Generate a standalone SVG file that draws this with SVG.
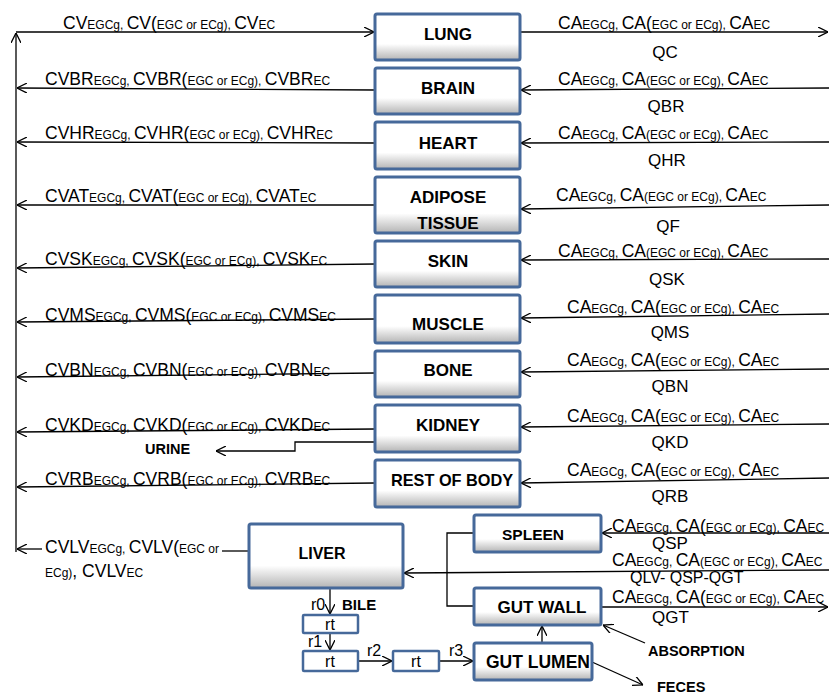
<svg xmlns="http://www.w3.org/2000/svg" width="829" height="694" viewBox="0 0 829 694">
<defs>
<linearGradient id="bg" x1="0" y1="0" x2="0" y2="1">
<stop offset="0" stop-color="#ffffff"/>
<stop offset="0.65" stop-color="#ffffff"/>
<stop offset="1" stop-color="#b4b4b4"/>
</linearGradient>
<marker id="ah" viewBox="0 0 10 10" refX="10" refY="5" markerWidth="10" markerHeight="10" markerUnits="userSpaceOnUse" orient="auto">
<path d="M0,0 L10,5 L0,10" fill="none" stroke="#000" stroke-width="1.3"/>
</marker>
</defs>
<style>
text{font-family:"Liberation Sans",Arial,sans-serif;fill:#000}
.lb{font-size:17.5px}
.s{font-size:12px}
.q{font-size:17px}
.b{font-weight:bold;font-size:17px;text-anchor:middle}
.bl{font-weight:bold;font-size:14.5px}
.r{font-size:16px}
.box{fill:url(#bg);stroke:#46699a;stroke-width:3}
.rt{fill:#fff;stroke:#46699a;stroke-width:2.5}
.c{fill:none;stroke:#000;stroke-width:1.3}
.a{marker-end:url(#ah)}
</style>

<g id="connectors">
<path class="c a" d="M16,552 V33"/>
<path class="c a" d="M16,32 H374"/>
<path class="c a" d="M375,90 L17,88"/>
<path class="c a" d="M375,143 L17,142"/>
<path class="c a" d="M375,205 L17,205"/>
<path class="c a" d="M375,264 L17,268"/>
<path class="c a" d="M375,319 L17,322"/>
<path class="c a" d="M375,373 L17,377"/>
<path class="c a" d="M375,429 L17,432"/>
<path class="c a" d="M375,442 H295 V451 H216"/>
<path class="c a" d="M375,483 L17,487"/>
<path class="c" d="M249,551 H222"/>
<path class="c a" d="M42,549 H17"/>
<path class="c a" d="M521,32 H828"/>
<path class="c a" d="M829,88 L521,90"/>
<path class="c a" d="M829,142 L521,143"/>
<path class="c a" d="M829,205 L521,209"/>
<path class="c a" d="M829,259 L521,260"/>
<path class="c a" d="M829,314 L521,318"/>
<path class="c a" d="M829,369 L521,372"/>
<path class="c a" d="M829,424 L521,427"/>
<path class="c a" d="M829,478 L521,483"/>
<path class="c a" d="M829,533 L602,533"/>
<path class="c a" d="M829,570 L404,573"/>
<path class="c a" d="M601,607 H828"/>
<path class="c a" d="M645,643 L603,625"/>
<path class="c a" d="M592,662 L643,685"/>
<path class="c a" d="M542,643 V626"/>
<path class="c" d="M474,533 H447 V606 H474"/>
<path class="c a" d="M330,588 V614"/>
<path class="c a" d="M330,633 V650"/>
<path class="c a" d="M358,661 H392"/>
<path class="c a" d="M439,661 H473"/>
</g>

<g id="lung"><rect class="box" x="375" y="14" width="145" height="46" rx="2"/><text class="b" x="448" y="40">LUNG</text></g>
<g id="brain"><rect class="box" x="375" y="68" width="145" height="46" rx="2"/><text class="b" x="448" y="94">BRAIN</text></g>
<g id="heart"><rect class="box" x="375" y="122" width="145" height="47" rx="2"/><text class="b" x="448" y="149">HEART</text></g>
<g id="adipose"><rect class="box" x="375" y="177" width="145" height="56" rx="2"/><text class="b" x="448" y="203">ADIPOSE</text><text class="b" x="448" y="229">TISSUE</text></g>
<g id="skin"><rect class="box" x="375" y="241" width="145" height="46" rx="2"/><text class="b" x="448" y="267">SKIN</text></g>
<g id="muscle"><rect class="box" x="375" y="295" width="145" height="48" rx="2"/><text class="b" x="448" y="330">MUSCLE</text></g>
<g id="bone"><rect class="box" x="375" y="351" width="145" height="46" rx="2"/><text class="b" x="448" y="376">BONE</text></g>
<g id="kidney"><rect class="box" x="375" y="405" width="145" height="47" rx="2"/><text class="b" x="448" y="431">KIDNEY</text></g>
<g id="restofbody"><rect class="box" x="375" y="460" width="145" height="47" rx="2"/><text class="b" x="452" y="486" style="font-size:16.3px">REST OF BODY</text></g>
<g id="liver"><rect class="box" x="249" y="524" width="154" height="64" rx="2"/><text class="b" x="322" y="559" style="font-size:16px">LIVER</text></g>
<g id="spleen"><rect class="box" x="474" y="515" width="127" height="37" rx="2"/><text class="b" x="533" y="540" style="font-size:15.5px">SPLEEN</text></g>
<g id="gutwall"><rect class="box" x="474" y="588" width="127" height="37" rx="2"/><text class="b" x="542" y="613">GUT WALL</text></g>
<g id="gutlumen"><rect class="box" x="474" y="643" width="118" height="37" rx="2"/><text class="b" x="538" y="668" style="font-size:17.5px">GUT LUMEN</text></g>
<g id="rt1"><rect class="rt" x="303" y="615" width="55" height="18" rx="1"/><text class="r" x="330" y="630" text-anchor="middle">rt</text></g>
<g id="rt2"><rect class="rt" x="303" y="651" width="55" height="20" rx="1"/><text class="r" x="330" y="667" text-anchor="middle">rt</text></g>
<g id="rt3"><rect class="rt" x="393" y="651" width="46" height="20" rx="1"/><text class="r" x="416" y="667" text-anchor="middle">rt</text></g>

<g id="labels-left">
<text class="lb" x="63" y="29">CV<tspan class="s">EGCg, </tspan>CV(<tspan class="s">EGC or ECg), </tspan>CV<tspan class="s">EC</tspan></text>
<text class="lb" x="45" y="85">CVBR<tspan class="s">EGCg, </tspan>CVBR(<tspan class="s">EGC or ECg), </tspan>CVBR<tspan class="s">EC</tspan></text>
<text class="lb" x="45" y="139">CVHR<tspan class="s">EGCg, </tspan>CVHR(<tspan class="s">EGC or ECg), </tspan>CVHR<tspan class="s">EC</tspan></text>
<text class="lb" x="45" y="202">CVAT<tspan class="s">EGCg, </tspan>CVAT(<tspan class="s">EGC or ECg), </tspan>CVAT<tspan class="s">EC</tspan></text>
<text class="lb" x="45" y="265">CVSK<tspan class="s">EGCg, </tspan>CVSK(<tspan class="s">EGC or ECg), </tspan>CVSK<tspan class="s">EC</tspan></text>
<text class="lb" x="45" y="321">CVMS<tspan class="s">EGCg, </tspan>CVMS(<tspan class="s">EGC or ECg), </tspan>CVMS<tspan class="s">EC</tspan></text>
<text class="lb" x="45" y="376">CVBN<tspan class="s">EGCg, </tspan>CVBN(<tspan class="s">EGC or ECg), </tspan>CVBN<tspan class="s">EC</tspan></text>
<text class="lb" x="45" y="431">CVKD<tspan class="s">EGCg, </tspan>CVKD(<tspan class="s">EGC or ECg), </tspan>CVKD<tspan class="s">EC</tspan></text>
<text class="bl" x="145" y="454">URINE</text>
<text class="lb" x="45" y="485">CVRB<tspan class="s">EGCg, </tspan>CVRB(<tspan class="s">EGC or ECg), </tspan>CVRB<tspan class="s">EC</tspan></text>
<text class="lb" x="45" y="553">CVLV<tspan class="s">EGCg, </tspan>CVLV(<tspan class="s">EGC or</tspan></text>
<text class="lb" x="45" y="577"><tspan class="s">ECg)</tspan>, CVLV<tspan class="s">EC</tspan></text>
</g>

<g id="labels-right">
<text class="lb" x="558" y="29">CA<tspan class="s">EGCg, </tspan>CA(<tspan class="s">EGC or ECg), </tspan>CA<tspan class="s">EC</tspan></text>
<text class="q" x="665" y="58" text-anchor="middle">QC</text>
<text class="lb" x="558" y="85">CA<tspan class="s">EGCg, </tspan>CA<tspan class="s">(EGC or ECg), </tspan>CA<tspan class="s">EC</tspan></text>
<text class="q" x="666" y="112" text-anchor="middle">QBR</text>
<text class="lb" x="558" y="139">CA<tspan class="s">EGCg, </tspan>CA<tspan class="s">(EGC or ECg), </tspan>CA<tspan class="s">EC</tspan></text>
<text class="q" x="667" y="166" text-anchor="middle">QHR</text>
<text class="lb" x="556" y="201">CA<tspan class="s">EGCg, </tspan>CA<tspan class="s">(EGC or ECg), </tspan>CA<tspan class="s">EC</tspan></text>
<text class="q" x="668" y="232" text-anchor="middle">QF</text>
<text class="lb" x="558" y="257">CA<tspan class="s">EGCg, </tspan>CA<tspan class="s">(EGC or ECg), </tspan>CA<tspan class="s">EC</tspan></text>
<text class="q" x="667" y="285" text-anchor="middle">QSK</text>
<text class="lb" x="567" y="313">CA<tspan class="s">EGCg, </tspan>CA(<tspan class="s">EGC or ECg), </tspan>CA<tspan class="s">EC</tspan></text>
<text class="q" x="670" y="338" text-anchor="middle">QMS</text>
<text class="lb" x="567" y="366">CA<tspan class="s">EGCg, </tspan>CA(<tspan class="s">EGC or ECg), </tspan>CA<tspan class="s">EC</tspan></text>
<text class="q" x="670" y="392" text-anchor="middle">QBN</text>
<text class="lb" x="567" y="422">CA<tspan class="s">EGCg, </tspan>CA(<tspan class="s">EGC or ECg), </tspan>CA<tspan class="s">EC</tspan></text>
<text class="q" x="670" y="448" text-anchor="middle">QKD</text>
<text class="lb" x="567" y="476">CA<tspan class="s">EGCg, </tspan>CA(<tspan class="s">EGC or ECg), </tspan>CA<tspan class="s">EC</tspan></text>
<text class="q" x="670" y="502" text-anchor="middle">QRB</text>
<text class="lb" x="612" y="532">CA<tspan class="s">EGCg, </tspan>CA(<tspan class="s">EGC or ECg), </tspan>CA<tspan class="s">EC</tspan></text>
<text class="q" x="652" y="549">QSP</text>
<text class="lb" x="612" y="566">CA<tspan class="s">EGCg, </tspan>CA<tspan class="s">(EGC or ECg), </tspan>CA<tspan class="s">EC</tspan></text>
<text class="q" x="630" y="583" style="font-size:16px">QLV- QSP-QGT</text>
<text class="lb" x="612" y="603">CA<tspan class="s">EGCg, </tspan>CA(<tspan class="s">EGC or ECg), </tspan>CA<tspan class="s">EC</tspan></text>
<text class="q" x="652" y="623">QGT</text>
<text class="bl" x="648" y="656">ABSORPTION</text>
<text class="bl" x="657" y="692">FECES</text>
</g>

<g id="labels-chain">
<text class="r" x="311" y="610">r0</text>
<text class="bl" x="342" y="610" style="font-size:15px">BILE</text>
<text class="r" x="308" y="647">r1</text>
<text class="r" x="367" y="656">r2</text>
<text class="r" x="449" y="656">r3</text>
</g>
</svg>
